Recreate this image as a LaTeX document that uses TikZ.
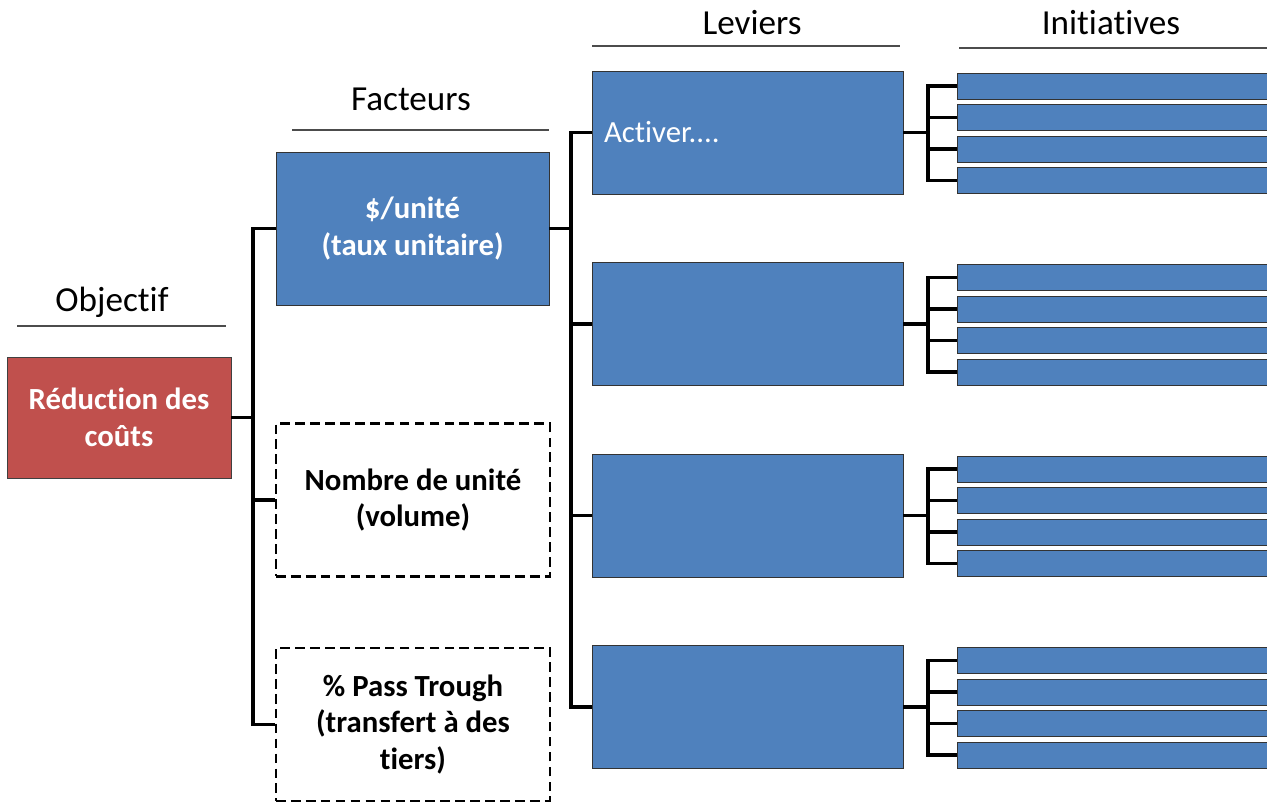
\documentclass[tikz,border=0pt]{standalone}
\usepackage{fontspec}
\setmainfont{Carlito}[Ligatures=NoCommon]
\usetikzlibrary{positioning}
\definecolor{cblue}{HTML}{4F81BD}
\definecolor{cred}{HTML}{C0504D}

\begin{document}
\begin{tikzpicture}[x=0.02cm,y=-0.02cm,
  hd/.style={font=\fontsize{20}{24}\selectfont,anchor=base},
  hl/.style={draw=black!70,line width=0.7pt},
  obj/.style={draw=black!75,fill=cred,text=white,font=\fontsize{17.5}{21}\selectfont\bfseries,
              minimum width=4.48cm,minimum height=2.42cm,align=center,inner sep=1pt},
  fac/.style={draw=black!80,fill=cblue,text=white,font=\fontsize{17.5}{21}\selectfont\bfseries,
              minimum width=5.46cm,minimum height=3.06cm,align=center,inner sep=1pt},
  facd/.style={draw,line width=1.6pt,dash pattern=on 5.5pt off 3pt,fill=white,
              font=\fontsize{17.5}{21}\selectfont\bfseries,
              minimum width=5.48cm,minimum height=3.06cm,align=center,inner sep=1pt},
  lev/.style={draw=black!80,fill=cblue,text=white,font=\fontsize{17.5}{21}\selectfont,
              minimum width=6.22cm,minimum height=2.46cm,text width=5.74cm,align=left,inner xsep=0.24cm},
  ini/.style={draw=black!80,fill=cblue,minimum width=6.26cm,minimum height=0.52cm,inner sep=0pt},
  con/.style={draw=black,line width=2pt}]

\clip (0,0) rectangle (1267,803);

% headers
\node[hd] (hobj) at (112,312) {Objectif};
\node[hd] (hfac) at (411,111) {Facteurs};
\node[hd] (hlev) at (752,35)  {Leviers};
\node[hd] (hini) at (1111,35) {Initiatives};
\draw[hl] (17,326) -- (226,326);
\draw[hl] (292,130) -- (549,130);
\draw[hl] (592,46) -- (900,46);
\draw[hl] (959,48) -- (1267,48);

\node[obj] (obj) at (119,417.5) {Réduction des\\coûts};
\node[fac] (fac1) at (412.5,228.5) {\$/unité\\(taux unitaire)};
\node[facd] (fac2) at (413,500) {Nombre de unité\\(volume)};
\node[facd] (fac3) at (413,724.5) {\% Pass Trough\\(transfert à des\\tiers)};

\coordinate (jf) at (253,417.5);
\draw[con] (obj.east) -- (jf);
\foreach \n in {fac1,fac2,fac3}
  \draw[con] (jf) |- (\n.west);

\node[lev] (lev1) at (747.5,132.5) {Activer....};
\foreach \c [count=\i from 2] in {324,515.5,707}
  \node[lev] (lev\i) at (747.5,\c) {};

\coordinate (jv) at (571,228.5);
\draw[con] (fac1.east) -- (jv);
\foreach \i in {1,...,4}
  \draw[con] (jv) |- (lev\i.west);

% initiatives, four per lever
\foreach \c [count=\i] in {132.5,324,515.5,707} {
  \coordinate (jl\i) at (928,\c);
  \foreach \o [count=\k] in {-46.5,-15,16.5,48}
    \node[ini] (ini\i\k) at (1113.5,\c+\o) {};
  \draw[con] (lev\i.east) -- (jl\i);
  \foreach \k in {1,...,4}
    \draw[con] (jl\i) |- (ini\i\k.west);
}
\end{tikzpicture}
\end{document}
